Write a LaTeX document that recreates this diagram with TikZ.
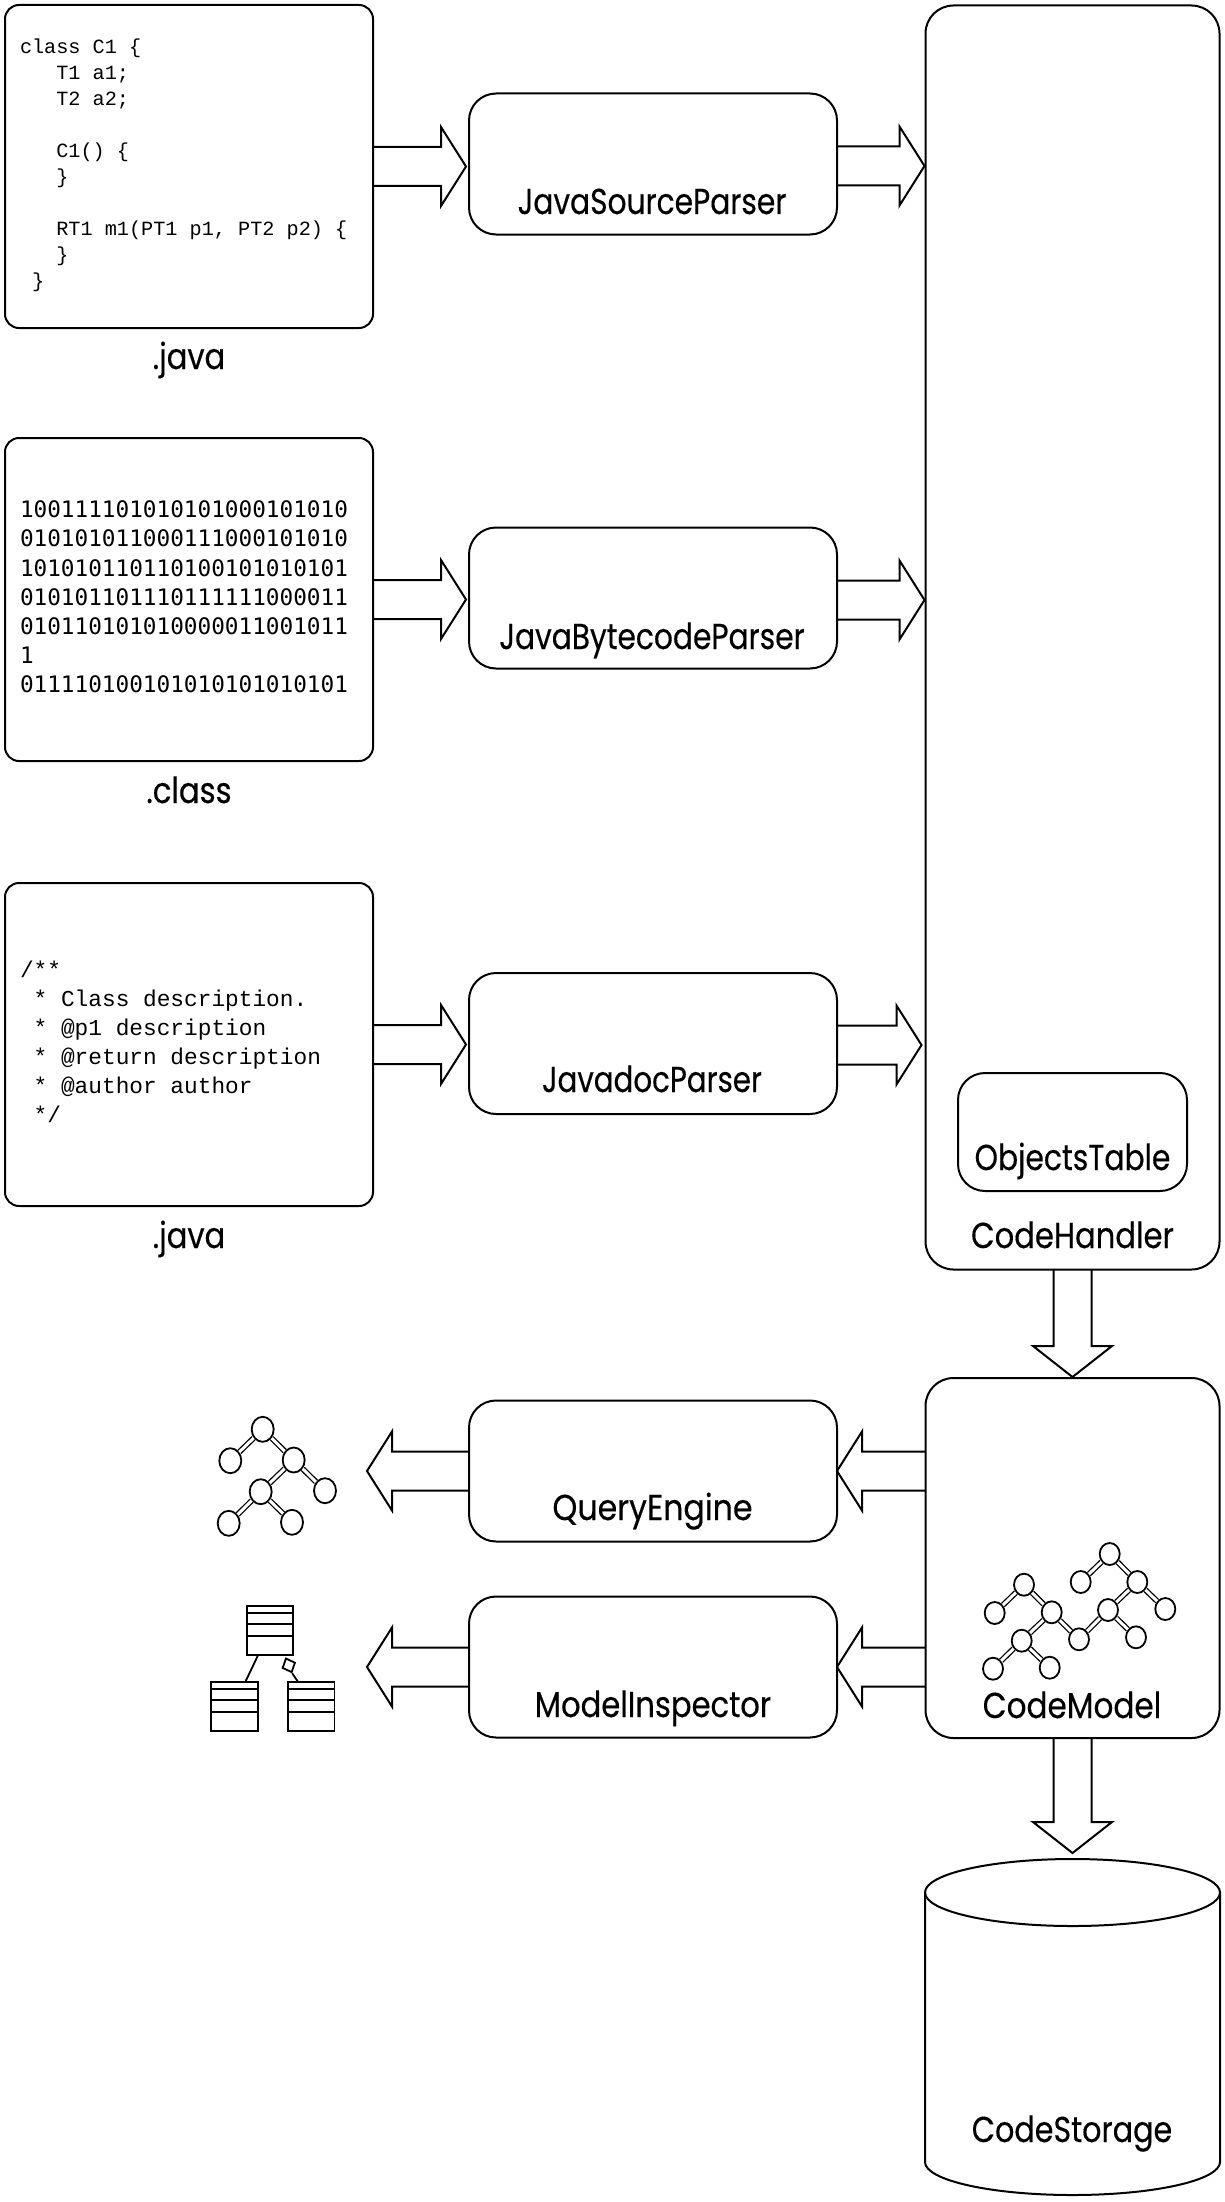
\documentclass[tikz,border=0pt]{standalone}
\usepackage{fontspec}
\usetikzlibrary{calc,shapes.geometric}
\setmainfont[FakeStretch=0.85,FakeBold=0.3]{Poppins}
\newfontfamily\codefont{Liberation Mono}
\newfontfamily\binfont{DejaVu Sans Mono}
\newcommand{\fontspaces}{\spaceskip=0pt \xspaceskip=0pt \relax}
\newcommand{\sx}[2]{\scalebox{#1}[1]{#2}}
\newcommand{\liftup}[1]{\par\vspace{#1}\hrule height 0pt width 0pt}
\newcommand{\arrowR}[4]{\draw[blockarrow] let \p1=(#1), \p2=(#2) in
 (\x1,\y1-#4pt+19.5pt) -- (\x2+#3pt-25pt,\y1-#4pt+19.5pt) -- (\x2+#3pt-25pt,\y1-#4pt+39.5pt) -- (\x2+#3pt,\y1-#4pt)
 -- (\x2+#3pt-25pt,\y1-#4pt-39.5pt) -- (\x2+#3pt-25pt,\y1-#4pt-19.5pt) -- (\x1,\y1-#4pt-19.5pt);}
\newcommand{\arrowL}[3]{\draw[blockarrow] let \p1=(#1), \p2=(#2) in
 (\x1,\y2+19.5pt) -- (\x2+#3pt+25pt,\y2+19.5pt) -- (\x2+#3pt+25pt,\y2+39.5pt) -- (\x2+#3pt,\y2)
 -- (\x2+#3pt+25pt,\y2-39.5pt) -- (\x2+#3pt+25pt,\y2-19.5pt) -- (\x1,\y2-19.5pt);}
\newcommand{\arrowD}[3]{\draw[blockarrow] let \p1=(#1), \p2=(#2) in
 (\x1-19pt,\y1) -- (\x1-19pt,\y2+#3pt+31pt) -- (\x1-39.5pt,\y2+#3pt+31pt) -- (\x1,\y2+#3pt)
 -- (\x1+39.5pt,\y2+#3pt+31pt) -- (\x1+19pt,\y2+#3pt+31pt) -- (\x1+19pt,\y1);}
\newcommand{\umlclass}[4]{%
 \node[umlbox,minimum width=#4pt] (#1) at (#2,#3) {};
 \draw[thin line] ($(#1.north west)+(0,7.3)$) -- ($(#1.north east)+(0,7.3)$);
 \draw[thin line] ($(#1.north west)+(0,18.3)$) -- ($(#1.north east)+(0,18.3)$);
 \draw[thin line] ($(#1.north west)+(0,30)$) -- ($(#1.north east)+(0,30)$);}
\tikzset{
 line/.style={line width=2pt,draw=black},
 thin line/.style={line width=1.8pt,draw=black},
 blockarrow/.style={line width=2pt,draw=black,line join=miter,miter limit=10},
 filebox/.style={line,rectangle,rounded corners=14pt,minimum height=323pt,text width=338pt,inner xsep=15pt,inner ysep=0pt,align=flush left,outer sep=0pt},
 codetext/.style={font=\fontsize{20.2}{26}\selectfont\codefont},
 doctext/.style={font=\fontsize{22.8}{29}\selectfont\codefont},
 bintext/.style={font=\fontsize{22.7}{29.2}\selectfont\binfont},
 procbox/.style={line,rectangle,rounded corners=27pt,minimum width=368pt,minimum height=141pt,inner sep=0pt,outer sep=0pt},
 bigbox/.style={line,rectangle,rounded corners=28pt,inner sep=0pt,outer sep=0pt},
 lab/.style={anchor=base,inner sep=0pt,yshift=-1pt,font=\fontsize{36}{42}\selectfont},
 atom/.style={ellipse,draw=black,line width=1.8pt,fill=white,inner sep=0pt,minimum width=22pt,minimum height=25pt},
 smallatom/.style={atom,minimum width=20pt,minimum height=22pt},
 bond/.style={line width=1.3pt,draw=black,double=white,double distance=3pt},
 umlbox/.style={draw=black,line width=1.8pt,rectangle,minimum height=48.7pt,inner sep=0pt,outer sep=0pt},
 markbox/.style={diamond,draw=black,line width=1.8pt,fill=white,inner sep=0pt,minimum width=14pt,minimum height=15.5pt,rotate=23},
}
\begin{document}
\begin{tikzpicture}[x=1pt,y=-1pt]
\useasboundingbox[fill=white] (0,0) rectangle (1224,2202);

% source files
\node[filebox,codetext] (f1) at (189,166.5) {\fontspaces class C1 \{\\
\ \ \ T1 a1;\\
\ \ \ T2 a2;\\
\mbox{}\\
\ \ \ C1() \{\\
\ \ \ \}\\
\mbox{}\\
\ \ \ RT1 m1(PT1 p1, PT2 p2) \{\\
\ \ \ \}\\
\ \}\liftup{2pt}};
\node[filebox,bintext] (f2) at (189,599.5) {100111101010101000101010\\
010101011000111000101010\\
101010110110100101010101\\
010101101110111111000011\\
010110101010000011001011\\
1\\
011110100101010101010101\liftup{5pt}};
\node[filebox,doctext] (f3) at (189,1044.5) {\fontspaces /**\\
\ * Class description.\\
\ * @p1 description\\
\ * @return description\\
\ * @author author\\
\ */\liftup{5pt}};
\node[lab] (fl1) at (189,368) {.java};
\node[lab] (fl2) at (189,802) {.class};
\node[lab] (fl3) at (189,1247) {.java};

% processors
\node[procbox] (p1) at (653,164) {};
\node[procbox] (p2) at (653,598) {};
\node[procbox] (p3) at (653,1043.5) {};
\node[procbox] (q1) at (653,1471) {};
\node[procbox] (q2) at (653,1667) {};
\node[lab] (pl1) at (652,213) {\sx{.97}{JavaSourceParser}};
\node[lab] (pl2) at (652,648) {\sx{.97}{JavaBytecodeParser}};
\node[lab] (pl3) at (652,1091) {\sx{.957}{JavadocParser}};
\node[lab] (ql1) at (652.5,1519) {\sx{1.035}{QueryEngine}};
\node[lab] (ql2) at (653,1716) {ModelInspector};

% code handler
\node[bigbox,minimum width=294pt,minimum height=1264pt] (handler) at (1072.5,637.5) {};
\node[bigbox,rounded corners=27pt,minimum width=229pt,minimum height=118pt] (table) at (1072.5,1132) {};
\node[lab] (tablel) at (1072.5,1169) {\sx{.972}{ObjectsTable}};
\node[lab] (handlerl) at (1072.5,1247) {CodeHandler};

% code model
\node[bigbox,minimum width=294pt,minimum height=360pt] (model) at (1072.5,1558) {};
\node[lab] (modell) at (1072,1717) {\sx{1.015}{CodeModel}};
\foreach \n/\x/\y in {a/1024/1584.7,b/994.7/1613,c/1051.7/1612.3,d/1021.7/1640.7,e/993/1668.7,f/1049.7/1667.7,g/1079/1639.3,h/1109.7/1554,i/1080.7/1582,j/1137.3/1582,k/1108/1610,l/1165.3/1609,m/1136/1637.3}
  \node[smallatom] (m\n) at (\x,\y) {};
\foreach \s/\t in {a/b,a/c,c/d,c/g,d/e,d/f,h/i,h/j,j/k,j/l,k/g,k/m}
  \draw[bond] (m\s) -- (m\t);

% storage
\node[minimum width=295pt,minimum height=336pt,inner sep=0pt,outer sep=0pt] (store) at (1072.5,2027) {};
\draw[line] (925,1892) -- (925,2162) arc[start angle=180,end angle=360,x radius=147.5pt,y radius=33pt] -- (1220,1892);
\draw[line] (1072.5,1892.5) ellipse [x radius=147.5pt,y radius=33.5pt];
\node[lab] (storel) at (1072,2141) {\sx{.986}{CodeStorage}};

% result tree
\foreach \n/\x/\y in {1/262.7/1429.3,2/230.3/1460.7,3/293.7/1460,4/260.7/1491.7,5/325/1490.7,6/228.7/1523.3,7/292/1522.3}
  \node[atom] (t\n) at (\x,\y) {};
\foreach \s/\t in {1/2,1/3,3/4,3/5,4/6,4/7}
  \draw[bond] (t\s) -- (t\t);

% result classes
\umlclass{cu}{270}{1630.3}{45.4}
\umlclass{cl}{234.5}{1706.3}{46.4}
\umlclass{cr}{311.3}{1706.3}{46.4}
\draw[thin line] ($(cu.south west)+(11,0)$) -- ($(cl.north west)+(34,0)$);
\node[markbox] (mk) at (288.8,1665.3) {};
\draw[thin line] (mk.south) -- ($(cr.north west)+(10,0)$);

% arrows
\coordinate (tip1) at (367,1471);
\coordinate (tip2) at (367,1667);
\arrowR{f1.east}{p1.west}{-3}{0}
\arrowR{f2.east}{p2.west}{-3}{0}
\arrowR{f3.east}{p3.west}{-3}{0}
\arrowR{p1.east}{handler.west}{-1}{2}
\arrowR{p2.east}{handler.west}{-1}{2}
\arrowR{p3.east}{handler.west}{-4}{1.5}
\arrowD{handler.south}{model.north}{1}
\arrowD{model.south}{store.north}{6}
\arrowL{model.west}{q1.east}{0}
\arrowL{model.west}{q2.east}{0}
\arrowL{q1.west}{tip1}{0}
\arrowL{q2.west}{tip2}{0}
\end{tikzpicture}
\end{document}
